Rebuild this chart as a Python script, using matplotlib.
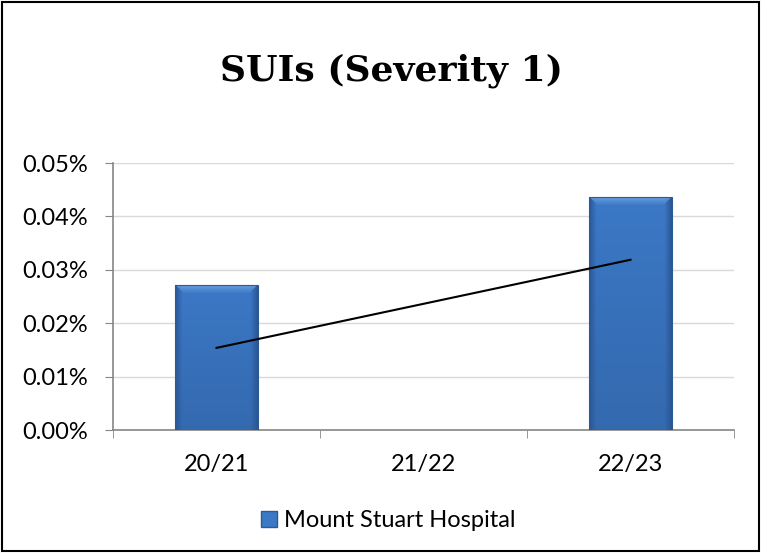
import matplotlib.pyplot as plt
import numpy as np
from matplotlib.patches import Rectangle

years = ["20/21", "21/22", "22/23"]
rates = [0.0272, 0.0, 0.0437]  # percent
series_name = "Mount Stuart Hospital"
yticks = [0.00, 0.01, 0.02, 0.03, 0.04, 0.05]

plt.rcParams['font.family'] = ['Lato', 'DejaVu Sans']

fig = plt.figure(figsize=(7.61, 5.53), dpi=100)
ax = fig.add_axes([0.1485, 0.2224, 0.8160, 0.4828])

x = np.arange(len(years))
bw = 0.4
bars = ax.bar(x, rates, width=bw, color="#3B78C6", zorder=3)

ax.set_xlim(-0.5, 2.5)
ax.set_ylim(0, 0.05)

# shaded fill for each bar, clipped to the bar shape
px_per_unit_y = 267 / 0.05
for b in bars:
    h = b.get_height()
    if h <= 0:
        continue
    hp = max(int(h * px_per_unit_y), 2)
    wp = 83
    img = np.zeros((hp, wp, 3))
    base = np.array([0x3B, 0x78, 0xC6]) / 255
    dark = np.array([0x2A, 0x57, 0x95]) / 255
    light = np.array([0x72, 0xA8, 0xE6]) / 255
    xs = np.arange(wp)
    edge = np.minimum(xs, wp - 1 - xs)
    for r in range(hp):
        row = np.tile(base, (wp, 1))
        f = r / hp
        row = row * (1 - 0.12 * f)
        t = np.clip(1 - edge / 7.0, 0, 1)[:, None]
        row = row * (1 - t) + dark * t
        if r < 9:
            inside = edge >= r
            tt = (1 - r / 9) * 0.85
            row[inside] = row[inside] * (1 - tt) + light * tt
        img[r] = row
    im = ax.imshow(img, extent=(b.get_x(), b.get_x() + bw, 0, h),
                   aspect='auto', zorder=4, interpolation='bilinear')
    im.set_clip_path(b)
    ax.add_patch(Rectangle((b.get_x(), 0), bw, h, fill=False,
                           edgecolor="#2C5A92", lw=0.8, zorder=5))

# linear trendline through the series
k, c = np.polyfit(x, rates, 1)
ax.plot(x[[0, -1]], k * x[[0, -1]] + c, color="black", lw=1.5, zorder=6)

ax.set_yticks(yticks)
ax.set_yticklabels([f"{v:.2f}%" for v in yticks], fontsize=17)
ax.set_xticks(x)
ax.set_xticklabels(years, fontsize=17)
ax.set_xticks([-0.5, 0.5, 1.5, 2.5], minor=True)
ax.tick_params(axis='x', which='major', length=0, pad=17)
ax.tick_params(axis='x', which='minor', length=6, color="#868686", direction='out')
ax.tick_params(axis='y', length=6, color="#868686", pad=12)
ax.yaxis.grid(True, color="#D9D9D9", lw=1, zorder=0)
ax.set_axisbelow(True)
for s in ["top", "right"]:
    ax.spines[s].set_visible(False)
for s in ["left", "bottom"]:
    ax.spines[s].set_color("#868686")
    ax.spines[s].set_linewidth(1.2)

fig.text(0.515, 0.872, "SUIs (Severity 1)", ha='center', va='center',
         fontsize=26, fontweight='bold', family=['DejaVu Serif'])

handle = Rectangle((0, 0), 1, 1, facecolor="#3B78C6", edgecolor="#2C5A92")
fig.legend([handle], [series_name], loc='center', bbox_to_anchor=(0.51, 0.058),
           frameon=False, fontsize=17, handlelength=0.7, handleheight=0.7,
           handletextpad=0.3)

fig.add_artist(Rectangle((0.003, 0.003), 0.994, 0.994, transform=fig.transFigure,
                         fill=False, edgecolor="black", lw=1.5))

fig.savefig("out.png", dpi=100)
